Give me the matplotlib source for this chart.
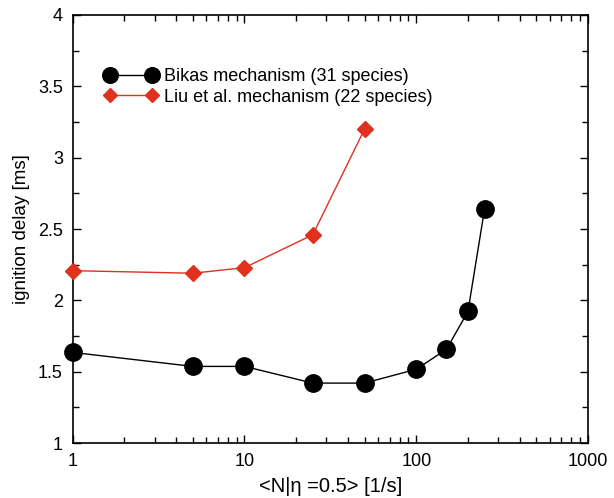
import matplotlib
matplotlib.use("Agg")
import matplotlib.pyplot as plt
from matplotlib.ticker import LogLocator, FixedLocator, MultipleLocator, FixedFormatter

plt.rcParams['font.family'] = ['Liberation Sans', 'DejaVu Sans']

# Bikas mechanism (31 species)
bikas_x = [1, 5, 10, 25, 50, 100, 150, 200, 250]
bikas_y = [1.635, 1.537, 1.537, 1.42, 1.42, 1.517, 1.657, 1.922, 2.642]

# Liu et al. mechanism (22 species)
liu_x = [1, 5, 10, 25, 50]
liu_y = [2.208, 2.19, 2.229, 2.46, 3.2]

xticks = [1, 10, 100, 1000]
xtick_labels = ['1', '10', '100', '1000']
yticks = [1, 1.5, 2, 2.5, 3, 3.5, 4]
ytick_labels = ['1', '1.5', '2', '2.5', '3', '3.5', '4']

fig = plt.figure(figsize=(6.14, 4.98), dpi=100)
ax = fig.add_axes([0.1184, 0.1104, 0.8393, 0.8595])

ax.plot(bikas_x, bikas_y, color='black', lw=1.0, marker='o', ms=12.5,
        label='Bikas mechanism (31 species)', clip_on=False, zorder=3)
ax.plot(liu_x, liu_y, color='#e0301e', lw=1.0, marker='D', ms=8,
        label='Liu et al. mechanism (22 species)', clip_on=False, zorder=3)

ax.set_xscale('log')
ax.set_xlim(1, 1000)
ax.set_ylim(1, 4)
ax.minorticks_on()
ax.xaxis.set_major_locator(FixedLocator(xticks))
ax.xaxis.set_major_formatter(FixedFormatter(xtick_labels))
ax.xaxis.set_minor_locator(LogLocator(base=10, subs=range(2, 10)))
ax.yaxis.set_major_locator(FixedLocator(yticks))
ax.yaxis.set_major_formatter(FixedFormatter(ytick_labels))
ax.yaxis.set_minor_locator(MultipleLocator(0.25))

ax.tick_params(which='both', direction='in', top=True, right=True, labelsize=13, width=1.0)
ax.tick_params(which='major', length=6, pad=7)
ax.tick_params(which='minor', length=4)
for s in ax.spines.values():
    s.set_linewidth(1.2)

ax.set_xlabel('<N|\u03b7 =0.5> [1/s]', fontsize=14.5, labelpad=5)
ax.set_ylabel('ignition delay [ms]', fontsize=13.5, labelpad=6)

ax.legend(loc='upper left', bbox_to_anchor=(0.062, 0.876), frameon=False,
          fontsize=13, numpoints=2, handlelength=2.9, handletextpad=0.4,
          labelspacing=0.2, borderaxespad=0, borderpad=0, markerscale=0.9)

fig.savefig('out.png', dpi=100)
